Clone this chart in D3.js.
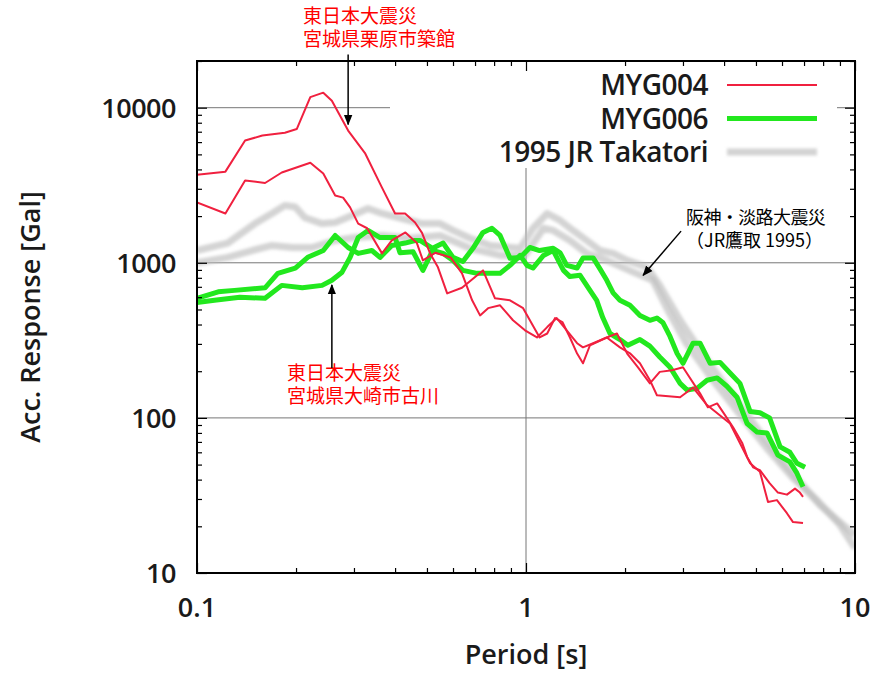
<!DOCTYPE html>
<html>
<head>
<meta charset="utf-8">
<script src="https://cdn.jsdelivr.net/npm/d3@7"></script>
<style>
  body { margin: 0; background: #fff; }
  svg { display: block; }
</style>
</head>
<body>
<svg id="chart"></svg>
<script>
var width = 877;
var height = 673;

// [period (s), acc. response (Gal)]
var myg004a = [[0.1,3700],[0.122,3870],[0.14,6140],[0.158,6610],[0.185,6900],[0.201,7280],[0.221,11700],[0.242,12500],[0.257,11100],[0.288,7120],[0.324,5100],[0.365,3050],[0.40,2080],[0.429,2080],[0.46,1820],[0.483,1560],[0.511,1150],[0.54,935],[0.576,635],[0.639,690],[0.74,893],[0.805,590],[0.894,573],[0.98,510],[1.10,330],[1.16,350],[1.225,440],[1.29,415],[1.36,330],[1.43,260],[1.49,225],[1.565,294],[1.76,330],[1.89,350],[2.03,260],[2.19,212],[2.38,167],[2.55,198],[2.78,203],[3.0,212],[3.38,144],[3.57,117],[3.81,124],[3.97,109],[4.26,87],[4.54,69],[4.70,56],[4.90,48],[5.14,46],[5.5,38],[5.83,33],[6.21,32],[6.57,35],[6.8,33],[6.95,31]];
var myg004b = [[0.1,2450],[0.122,2080],[0.14,3395],[0.161,3270],[0.181,3820],[0.221,4420],[0.242,3760],[0.263,2715],[0.278,2630],[0.292,2275],[0.309,1790],[0.329,1670],[0.365,1150],[0.391,1393],[0.43,1570],[0.466,1340],[0.486,1036],[0.53,1160],[0.59,1083],[0.639,855],[0.686,573],[0.725,458],[0.767,510],[0.834,532],[0.913,426],[0.993,367],[1.08,330],[1.16,385],[1.24,440],[1.43,303],[1.49,285],[1.60,303],[1.76,330],[1.93,285],[2.07,261],[2.22,225],[2.38,175],[2.50,140],[2.94,136],[3.22,157],[3.55,121],[4.17,92],[4.80,51],[5.14,45],[5.44,28.7],[5.79,29.5],[6.21,24.3],[6.48,21.3],[6.95,21]];
var myg006a = [[0.1,590],[0.116,650],[0.13,664],[0.161,690],[0.176,855],[0.199,925],[0.217,1085],[0.242,1200],[0.263,1500],[0.288,1255],[0.309,1150],[0.34,1200],[0.36,1083],[0.391,1294],[0.429,1340],[0.46,1393],[0.476,1393],[0.52,1240],[0.56,1340],[0.60,1083],[0.643,1020],[0.69,1240],[0.74,1570],[0.788,1670],[0.834,1500],[0.894,1070],[0.96,1083],[1.028,1255],[1.10,1200],[1.21,1240],[1.27,1160],[1.33,962],[1.43,925],[1.49,1075],[1.60,1075],[1.68,910],[1.76,771],[1.84,640],[1.93,573],[2.07,532],[2.22,458],[2.38,426],[2.50,440],[2.61,410],[2.74,335],[2.88,260],[3.0,225],[3.22,303],[3.38,303],[3.63,225],[3.89,228],[4.17,195],[4.47,167],[4.80,110],[5.14,108],[5.50,100],[5.92,65],[6.34,60],[6.66,51],[7.05,48]];
var myg006b = [[0.1,555],[0.113,573],[0.135,600],[0.161,590],[0.181,715],[0.209,690],[0.24,715],[0.257,771],[0.276,870],[0.292,1083],[0.309,1455],[0.331,1617],[0.36,1455],[0.40,1455],[0.414,1160],[0.4535,1180],[0.486,893],[0.52,1200],[0.56,1150],[0.60,1036],[0.643,893],[0.71,855],[0.762,855],[0.834,855],[0.894,962],[0.96,1116],[1.007,962],[1.05,925],[1.13,1116],[1.21,1200],[1.30,893],[1.36,815],[1.46,830],[1.565,664],[1.64,573],[1.71,445],[1.80,350],[1.93,320],[2.04,294],[2.22,320],[2.38,290],[2.55,247],[2.74,212],[2.94,167],[3.09,151],[3.31,155],[3.55,175],[3.81,181],[4.08,160],[4.38,136],[4.70,92],[5.04,81],[5.40,80],[5.83,57.5],[6.34,52],[6.66,44],[6.95,36]];
var takatoriA = [[0.1,1200],[0.124,1340],[0.15,1790],[0.169,2080],[0.185,2345],[0.199,2290],[0.213,1950],[0.24,1790],[0.263,1820],[0.296,2020],[0.331,2240],[0.365,2080],[0.42,1930],[0.483,1790],[0.548,1790],[0.60,1617],[0.676,1440],[0.78,1294],[0.96,1240],[1.05,1670],[1.16,2080],[1.27,1875],[1.39,1617],[1.53,1393],[1.68,1200],[1.84,1150],[2.03,1036],[2.33,935],[2.55,715],[2.94,426],[3.38,273],[3.89,180],[4.47,121],[5.14,81],[5.92,55],[6.8,38.5],[7.83,27.4],[9.0,21.3],[10,17.6]];
var takatoriB = [[0.1,1000],[0.124,1083],[0.147,1200],[0.169,1294],[0.195,1255],[0.224,1255],[0.263,1393],[0.302,1455],[0.365,1500],[0.444,1440],[0.548,1500],[0.676,1240],[0.834,1116],[0.993,1116],[1.13,1670],[1.21,1617],[1.36,1393],[1.53,1150],[1.76,1036],[2.11,874],[2.43,771],[2.7,494],[3.07,303],[3.7,175],[4.47,105],[5.4,63.6],[6.48,41],[7.66,29.5],[9.0,20.4],[10,14.5]];

var legendLabels = ["MYG004", "MYG006", "1995 JR Takatori"];
var xTicks = [0.1, 1, 10];
var xTickLabels = ["0.1", "1", "10"];
var yTicks = [10, 100, 1000, 10000];
var yTickLabels = ["10", "100", "1000", "10000"];

var plotL = 197, plotR = 855, plotT = 61, plotB = 573;
var font = "'Open Sans', 'DejaVu Sans', sans-serif";
var jpFont = "'Noto Sans CJK JP', sans-serif";
var textWeight = 600;

var x = d3.scaleLog().domain([0.1, 10]).range([plotL, plotR]);
var y = d3.scaleLog().domain([10, 20000]).range([plotB, plotT]);

var svg = d3.select("#chart").attr("width", width).attr("height", height);

var defs = svg.append("defs");
defs.append("clipPath").attr("id", "plotClip")
  .append("rect")
  .attr("x", plotL).attr("y", plotT)
  .attr("width", plotR - plotL).attr("height", plotB - plotT);
defs.append("filter").attr("id", "soft")
  .attr("filterUnits", "userSpaceOnUse")
  .attr("x", 0).attr("y", 0).attr("width", width).attr("height", height)
  .append("feGaussianBlur").attr("stdDeviation", 1.6);
defs.append("marker").attr("id", "arrow")
  .attr("viewBox", "0 0 10 10").attr("refX", 9).attr("refY", 5)
  .attr("markerWidth", 7).attr("markerHeight", 7).attr("orient", "auto")
  .append("path").attr("d", "M0,1 L10,5 L0,9 z").attr("fill", "#000");

// grid
var grid = svg.append("g").attr("stroke", "#777").attr("stroke-width", 1);
[100, 1000, 10000].forEach(function(v) {
  grid.append("line")
    .attr("x1", plotL).attr("x2", plotR)
    .attr("y1", y(v)).attr("y2", y(v));
});
grid.append("line")
  .attr("x1", x(1)).attr("x2", x(1))
  .attr("y1", plotT).attr("y2", plotB);

// legend background hides the grid behind it
svg.append("rect")
  .attr("x", 390).attr("y", plotT + 1)
  .attr("width", 447).attr("height", 106)
  .attr("fill", "#fff");

var line = d3.line()
  .x(function(d) { return x(d[0]); })
  .y(function(d) { return y(d[1]); });

var curves = svg.append("g").attr("clip-path", "url(#plotClip)");

var styles = [
  { data: [takatoriA, takatoriB], color: "#bdbdbd", width: 7, opacity: 0.65, blur: true },
  { data: [myg006a, myg006b], color: "#22e81e", width: 5, opacity: 1, blur: false },
  { data: [myg004a, myg004b], color: "#f0203f", width: 2, opacity: 1, blur: false }
];

styles.forEach(function(s) {
  curves.append("g")
    .attr("filter", s.blur ? "url(#soft)" : null)
    .selectAll("path")
    .data(s.data)
    .enter()
    .append("path")
    .attr("d", line)
    .attr("fill", "none")
    .attr("stroke", s.color)
    .attr("stroke-width", s.width)
    .attr("stroke-opacity", s.opacity)
    .attr("stroke-linejoin", "round");
});

// legend
var legendStyle = [styles[2], styles[1], styles[0]];
var legend = svg.append("g");
legendLabels.forEach(function(lab, i) {
  var ly = 85 + i * 33.5;
  legend.append("text")
    .attr("x", 708).attr("y", ly + 10)
    .attr("text-anchor", "end")
    .style("font-family", font)
    .style("font-size", "28px")
    .style("font-weight", textWeight)
    .style("letter-spacing", "-0.5px")
    .style("fill", "#1a1a1a")
    .text(lab);
  legend.append("line")
    .attr("x1", 727).attr("x2", 817)
    .attr("y1", ly).attr("y2", ly)
    .attr("stroke", legendStyle[i].color)
    .attr("stroke-width", legendStyle[i].width)
    .attr("stroke-opacity", legendStyle[i].opacity)
    .attr("filter", legendStyle[i].blur ? "url(#soft)" : null);
});

// ticks on all four sides, pointing inwards
function isMajor(v) {
  var l = Math.log10(v);
  return Math.abs(l - Math.round(l)) < 1e-6;
}
var xMinor = x.ticks().filter(function(v) { return !isMajor(v); });
var yMinor = y.ticks().filter(function(v) { return !isMajor(v); });

function drawAxis(axis, tx, ty) {
  var g = svg.append("g")
    .attr("transform", "translate(" + tx + "," + ty + ")")
    .call(axis);
  g.select(".domain").remove();
  g.selectAll("line").attr("stroke", "#000").attr("stroke-width", 1.2);
}
[[xTicks, 10], [xMinor, 5]].forEach(function(t) {
  drawAxis(d3.axisBottom(x).tickValues(t[0]).tickSize(-t[1]).tickFormat(""), 0, plotB);
  drawAxis(d3.axisTop(x).tickValues(t[0]).tickSize(-t[1]).tickFormat(""), 0, plotT);
});
[[yTicks, 10], [yMinor, 5]].forEach(function(t) {
  drawAxis(d3.axisLeft(y).tickValues(t[0]).tickSize(-t[1]).tickFormat(""), plotL, 0);
  drawAxis(d3.axisRight(y).tickValues(t[0]).tickSize(-t[1]).tickFormat(""), plotR, 0);
});

svg.append("rect")
  .attr("x", plotL).attr("y", plotT)
  .attr("width", plotR - plotL).attr("height", plotB - plotT)
  .attr("fill", "none")
  .attr("stroke", "#000")
  .attr("stroke-width", 2);

// tick labels
svg.append("g").selectAll("text")
  .data(xTicks)
  .enter()
  .append("text")
  .attr("x", function(d) { return x(d); })
  .attr("y", 617)
  .attr("text-anchor", "middle")
  .style("font-family", font)
  .style("font-size", "27px")
  .style("font-weight", textWeight)
  .style("fill", "#1a1a1a")
  .text(function(d, i) { return xTickLabels[i]; });

svg.append("g").selectAll("text")
  .data(yTicks)
  .enter()
  .append("text")
  .attr("x", 176)
  .attr("y", function(d) { return y(d) + 10; })
  .attr("text-anchor", "end")
  .style("font-family", font)
  .style("font-size", "27px")
  .style("font-weight", textWeight)
  .style("letter-spacing", "-0.5px")
  .style("fill", "#1a1a1a")
  .text(function(d, i) { return yTickLabels[i]; });

// axis titles
svg.append("text")
  .attr("x", (plotL + plotR) / 2).attr("y", 664)
  .attr("text-anchor", "middle")
  .style("font-family", font)
  .style("font-size", "27px")
  .style("font-weight", textWeight)
  .style("fill", "#1a1a1a")
  .text("Period [s]");

svg.append("text")
  .attr("transform", "translate(40," + ((plotT + plotB) / 2) + ") rotate(-90)")
  .attr("text-anchor", "middle")
  .style("font-family", font)
  .style("font-size", "27px")
  .style("font-weight", textWeight)
  .style("fill", "#1a1a1a")
  .text("Acc. Response [Gal]");

// annotations, one text per line
var notes = [
  { lines: ["東日本大震災", "宮城県栗原市築館"], x: 303, y: 23, color: "#ff0000", size: 19, sp: 0 },
  { lines: ["東日本大震災", "宮城県大崎市古川"], x: 287, y: 380, color: "#ff0000", size: 19, sp: 0 },
  { lines: ["阪神・淡路大震災", "（JR鷹取 1995）"], x: 686, y: 224, color: "#000", size: 18, sp: -0.6 }
];
notes.forEach(function(n) {
  var g = svg.append("g");
  n.lines.forEach(function(s, i) {
    g.append("text")
      .attr("x", n.x).attr("y", n.y + i * 23)
      .style("font-family", jpFont)
      .style("font-size", n.size + "px")
      .style("letter-spacing", i === 0 ? n.sp + "px" : "0px")
      .style("fill", n.color)
      .text(s);
  });
});

// arrows in data coordinates: [period, acc] from -> to
var arrows = [
  [[0.288, 22000], [0.288, 7800]],
  [[0.257, 210], [0.257, 720]],
  [[2.96, 1600], [2.27, 830]]
];
svg.append("g").selectAll("line")
  .data(arrows)
  .enter()
  .append("line")
  .attr("x1", function(d) { return x(d[0][0]); })
  .attr("y1", function(d) { return y(d[0][1]); })
  .attr("x2", function(d) { return x(d[1][0]); })
  .attr("y2", function(d) { return y(d[1][1]); })
  .attr("stroke", "#000")
  .attr("stroke-width", 1.5)
  .attr("marker-end", "url(#arrow)");
</script>
</body>
</html>
